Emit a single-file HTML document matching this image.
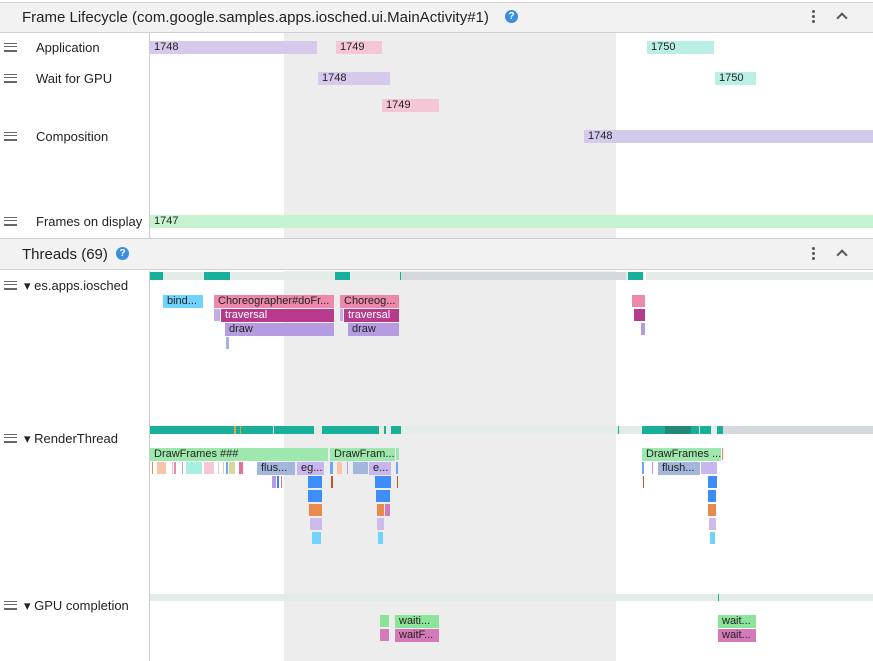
<!DOCTYPE html>
<html><head><meta charset="utf-8"><style>
*{margin:0;padding:0;box-sizing:border-box}
body{width:873px;height:661px;overflow:hidden;background:#fff;font-family:"Liberation Sans",sans-serif;position:relative}
.a{position:absolute}
.s{position:absolute;font-size:11px;line-height:13px;padding-left:4px;white-space:nowrap;overflow:hidden;color:#222}
.l{position:absolute;font-size:13px;color:#222;left:36px}
.h{position:absolute;left:4px;width:13px;height:9px;border-top:1px solid #666;border-bottom:1px solid #666}
.h:after{content:"";position:absolute;left:0;right:0;top:2px;height:3px;border-top:1px solid #666;border-bottom:1px solid #666}
.hd{position:absolute;left:0;width:873px;background:#f2f2f2;border-top:1px solid #d0d0d0;border-bottom:1px solid #d0d0d0}
.hd span{position:absolute;left:22px;top:6px;font-size:15px;color:#222}
.q{position:absolute;width:13px;height:13px;border-radius:50%;background:#3c8dde;color:#fff;font-size:10px;font-weight:bold;text-align:center;line-height:13px}
.dots{position:absolute;left:812px;font-size:14px;color:#555;line-height:14px;width:3px}
.dots i{display:block;width:3px;height:3px;background:#555;border-radius:50%;margin-bottom:2px}
.chev{position:absolute;left:838px;width:8px;height:8px;border-left:2px solid #555;border-top:2px solid #555;transform:rotate(45deg)}
.w{color:#fff}
</style></head><body>
<div class="hd" style="top:2px;height:31px"><span>Frame Lifecycle (com.google.samples.apps.iosched.ui.MainActivity#1)</span></div>
<div class="q" style="left:505px;top:10px">?</div>
<div class="dots" style="top:10px"><i></i><i></i><i></i></div><div class="chev" style="top:14px"></div>
<div class="a" style="left:284px;top:33px;width:332px;height:205px;background:#ededed"></div>
<div class="a" style="left:149px;top:33px;width:1px;height:205px;background:#ccc"></div>
<div class="h" style="top:43px"></div><div class="l" style="top:40px">Application</div>
<div class="h" style="top:74px"></div><div class="l" style="top:71px">Wait for GPU</div>
<div class="h" style="top:132px"></div><div class="l" style="top:129px">Composition</div>
<div class="h" style="top:217px"></div><div class="l" style="top:214px">Frames on display</div>
<div class="s" style="left:150px;top:41px;width:167px;background:#d5c9ec">1748</div>
<div class="s" style="left:336px;top:41px;width:46px;background:#f5c6d6">1749</div>
<div class="s" style="left:647px;top:41px;width:67px;background:#b9efe5">1750</div>
<div class="s" style="left:318px;top:72px;width:72px;background:#d5c9ec">1748</div>
<div class="s" style="left:715px;top:72px;width:41px;background:#b9efe5">1750</div>
<div class="s" style="left:382px;top:99px;width:57px;background:#f5c6d6">1749</div>
<div class="s" style="left:584px;top:130px;width:289px;background:#d5c9ec">1748</div>
<div class="s" style="left:150px;top:215px;width:723px;background:#c6f2d0">1747</div>

<div class="hd" style="top:238px;height:32px"><span style="top:7px">Threads (69)</span></div>
<div class="q" style="left:116px;top:247px">?</div>
<div class="dots" style="top:247px"><i></i><i></i><i></i></div><div class="chev" style="top:251px"></div>
<div class="a" style="left:284px;top:271px;width:332px;height:390px;background:#ededed"></div>
<div class="a" style="left:149px;top:271px;width:1px;height:390px;background:#ccc"></div>

<div class="h" style="top:281px"></div><div class="l" style="top:278px;left:24px">▾ es.apps.iosched</div>
<div class="h" style="top:434px"></div><div class="l" style="top:431px;left:24px">▾ RenderThread</div>
<div class="h" style="top:601px"></div><div class="l" style="top:598px;left:24px">▾ GPU completion</div>

<!-- state bars -->
<div class="a" style="left:150px;top:272px;width:723px;height:8px;background:#e4ecea"></div>
<div class="a" style="left:400px;top:272px;width:226px;height:8px;background:#d4dadc"></div>
<div class="a" style="left:150px;top:272px;width:13px;height:8px;background:#18b09a"></div>
<div class="a" style="left:204px;top:272px;width:26px;height:8px;background:#18b09a"></div>
<div class="a" style="left:335px;top:272px;width:15px;height:8px;background:#18b09a"></div>
<div class="a" style="left:400px;top:272px;width:1px;height:8px;background:#18b09a"></div>
<div class="a" style="left:628px;top:272px;width:15px;height:8px;background:#18b09a"></div>
<div class="a" style="left:644px;top:272px;width:2px;height:8px;background:#fff"></div>

<div class="s" style="left:163px;top:295px;width:40px;background:#6fd3fd">bind...</div>
<div class="s" style="left:214px;top:295px;width:120px;background:#ec88ab">Choreographer#doFr...</div>
<div class="a" style="left:214px;top:309px;width:6px;height:12px;background:#c1aee6"></div>
<div class="s w" style="left:221px;top:309px;width:113px;background:#b83a8c">traversal</div>
<div class="s" style="left:225px;top:323px;width:109px;background:#b59ce0">draw</div>
<div class="a" style="left:226px;top:337px;width:3px;height:12px;background:#9fb4e3"></div>
<div class="s" style="left:340px;top:295px;width:59px;background:#ec88ab">Choreog...</div>
<div class="a" style="left:340px;top:309px;width:3px;height:12px;background:#c1aee6"></div>
<div class="s w" style="left:344px;top:309px;width:55px;background:#b83a8c">traversal</div>
<div class="s" style="left:348px;top:323px;width:51px;background:#b59ce0">draw</div>
<div class="a" style="left:632px;top:295px;width:13px;height:12px;background:#ec88ab"></div>
<div class="a" style="left:634px;top:309px;width:11px;height:12px;background:#b83a8c"></div>
<div class="a" style="left:641px;top:323px;width:4px;height:12px;background:#b59ce0"></div>

<!-- render thread -->
<div class="a" style="left:150px;top:426px;width:723px;height:8px;background:#e4ecea"></div>
<div class="a" style="left:400px;top:426px;width:220px;height:8px;background:#e4ecea"></div>
<div class="a" style="left:722px;top:426px;width:151px;height:8px;background:#d4dadc"></div>
<div class="a" style="left:150px;top:426px;width:83px;height:8px;background:#18b09a"></div>
<div class="a" style="left:233px;top:426px;width:40px;height:8px;background:#18b09a"></div>
<div class="a" style="left:234px;top:426px;width:2px;height:8px;background:#e9a040"></div>
<div class="a" style="left:240px;top:426px;width:1px;height:8px;background:#e9a040"></div>
<div class="a" style="left:274px;top:426px;width:40px;height:8px;background:#18b09a"></div>
<div class="a" style="left:322px;top:426px;width:57px;height:8px;background:#18b09a"></div>
<div class="a" style="left:384px;top:426px;width:2px;height:8px;background:#18b09a"></div>
<div class="a" style="left:391px;top:426px;width:10px;height:8px;background:#18b09a"></div>
<div class="a" style="left:618px;top:426px;width:1px;height:8px;background:#18b09a"></div>
<div class="a" style="left:642px;top:426px;width:23px;height:8px;background:#18b09a"></div>
<div class="a" style="left:665px;top:426px;width:26px;height:8px;background:#1f8a78"></div>
<div class="a" style="left:691px;top:426px;width:8px;height:8px;background:#18b09a"></div>
<div class="a" style="left:700px;top:426px;width:11px;height:8px;background:#18b09a"></div>
<div class="a" style="left:717px;top:426px;width:6px;height:8px;background:#18b09a"></div>

<div class="s" style="left:150px;top:448px;width:178px;background:#9fe8ad">DrawFrames ###</div>
<div class="s" style="left:330px;top:448px;width:65px;background:#9fe8ad">DrawFram...</div>
<div class="a" style="left:396px;top:448px;width:3px;height:12px;background:#9fe8ad"></div>
<div class="a" style="left:152px;top:462px;width:1px;height:12px;background:#e8894e"></div>
<div class="a" style="left:157px;top:462px;width:9px;height:12px;background:#f8c3a6"></div>
<div class="a" style="left:172px;top:462px;width:1px;height:12px;background:#ccc"></div>
<div class="a" style="left:174px;top:462px;width:2px;height:12px;background:#ec88ab"></div>
<div class="a" style="left:182px;top:462px;width:1px;height:12px;background:#b59ce0"></div>
<div class="a" style="left:186px;top:462px;width:16px;height:12px;background:#a8efe3"></div>
<div class="a" style="left:204px;top:462px;width:10px;height:12px;background:#f5c6d6"></div>
<div class="a" style="left:218px;top:462px;width:1px;height:12px;background:#f8c3a6"></div>
<div class="a" style="left:223px;top:462px;width:1px;height:12px;background:#ccc"></div>
<div class="a" style="left:226px;top:462px;width:2px;height:12px;background:#6fa4fb"></div>
<div class="a" style="left:229px;top:462px;width:6px;height:12px;background:#d6d99b"></div>
<div class="a" style="left:239px;top:462px;width:4px;height:12px;background:#e37098"></div>
<div class="s" style="left:257px;top:462px;width:38px;background:#a3b7dc">flus...</div>
<div class="s" style="left:297px;top:462px;width:27px;background:#c9b5f0">eg...</div>
<div class="a" style="left:272px;top:476px;width:4px;height:12px;background:#b59ce0"></div>
<div class="a" style="left:277px;top:476px;width:2px;height:12px;background:#3b7ff6"></div>
<div class="a" style="left:281px;top:476px;width:1px;height:12px;background:#e37098"></div>
<div class="a" style="left:308px;top:476px;width:14px;height:12px;background:#3d8efc"></div>
<div class="a" style="left:308px;top:490px;width:14px;height:12px;background:#3d8efc"></div>
<div class="a" style="left:309px;top:504px;width:13px;height:12px;background:#e8894e"></div>
<div class="a" style="left:310px;top:518px;width:12px;height:12px;background:#cdbbec"></div>
<div class="a" style="left:312px;top:532px;width:9px;height:12px;background:#6fd3fd"></div>
<div class="a" style="left:330px;top:462px;width:3px;height:12px;background:#6fa4fb"></div>
<div class="a" style="left:337px;top:462px;width:5px;height:12px;background:#f8c3a6"></div>
<div class="a" style="left:347px;top:462px;width:1px;height:12px;background:#b59ce0"></div>
<div class="a" style="left:353px;top:462px;width:15px;height:12px;background:#a3b7dc"></div>
<div class="s" style="left:369px;top:462px;width:22px;background:#c9b5f0">e...</div>
<div class="a" style="left:396px;top:462px;width:2px;height:12px;background:#6fa4fb"></div>
<div class="a" style="left:331px;top:476px;width:2px;height:12px;background:#c0562b"></div>
<div class="a" style="left:397px;top:476px;width:1px;height:12px;background:#c0562b"></div>
<div class="a" style="left:375px;top:476px;width:16px;height:12px;background:#3d8efc"></div>
<div class="a" style="left:376px;top:490px;width:14px;height:12px;background:#3d8efc"></div>
<div class="a" style="left:377px;top:504px;width:7px;height:12px;background:#e8894e"></div>
<div class="a" style="left:385px;top:504px;width:5px;height:12px;background:#d57ab8"></div>
<div class="a" style="left:377px;top:518px;width:7px;height:12px;background:#cdbbec"></div>
<div class="a" style="left:378px;top:532px;width:5px;height:12px;background:#6fd3fd"></div>

<div class="s" style="left:642px;top:448px;width:79px;background:#9fe8ad">DrawFrames ...</div>
<div class="a" style="left:722px;top:448px;width:1px;height:12px;background:#e8894e"></div>
<div class="a" style="left:642px;top:462px;width:2px;height:12px;background:#6fa4fb"></div>
<div class="a" style="left:652px;top:462px;width:1px;height:12px;background:#b59ce0"></div>
<div class="a" style="left:643px;top:476px;width:1px;height:12px;background:#c0562b"></div>
<div class="s" style="left:658px;top:462px;width:42px;background:#a3b7dc">flush...</div>
<div class="a" style="left:701px;top:462px;width:16px;height:12px;background:#c9b5f0"></div>
<div class="a" style="left:708px;top:476px;width:9px;height:12px;background:#3d8efc"></div>
<div class="a" style="left:708px;top:490px;width:8px;height:12px;background:#3d8efc"></div>
<div class="a" style="left:708px;top:504px;width:8px;height:12px;background:#e8894e"></div>
<div class="a" style="left:709px;top:518px;width:7px;height:12px;background:#cdbbec"></div>
<div class="a" style="left:710px;top:532px;width:5px;height:12px;background:#6fd3fd"></div>

<!-- GPU -->
<div class="a" style="left:150px;top:594px;width:723px;height:7px;background:#e4ecea"></div>
<div class="a" style="left:718px;top:594px;width:1px;height:7px;background:#18b09a"></div>
<div class="a" style="left:380px;top:615px;width:9px;height:12px;background:#8ce39a"></div>
<div class="a" style="left:380px;top:629px;width:9px;height:12px;background:#d57ab8"></div>
<div class="s" style="left:395px;top:615px;width:44px;background:#8ce39a">waiti...</div>
<div class="s" style="left:395px;top:629px;width:44px;background:#d57ab8">waitF...</div>
<div class="s" style="left:718px;top:615px;width:38px;background:#8ce39a">wait...</div>
<div class="s" style="left:718px;top:629px;width:38px;background:#d57ab8">wait...</div>
</body></html>
